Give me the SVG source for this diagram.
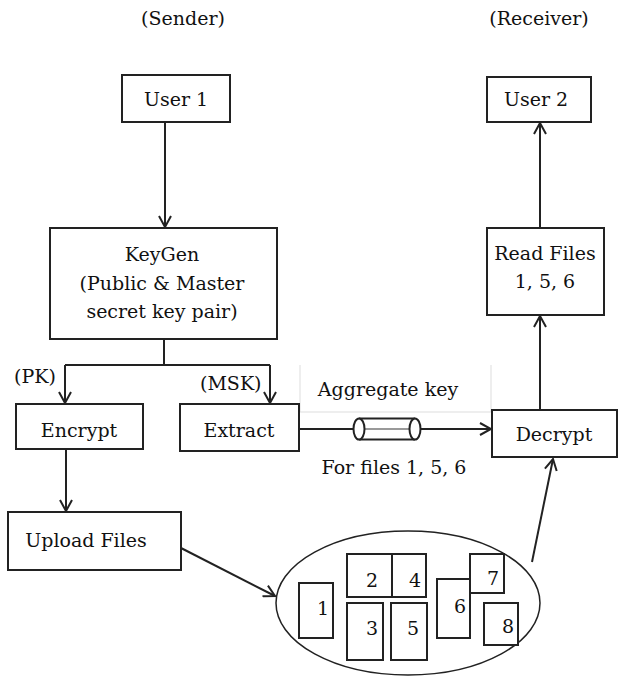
<svg xmlns="http://www.w3.org/2000/svg" width="627" height="676" viewBox="0 0 627 676">
<style>
.box{fill:#fff;stroke:#222;stroke-width:2}
.ln{fill:none;stroke:#222;stroke-width:2}
.faint{fill:none;stroke:#ddd;stroke-width:1}
.c{text-anchor:middle}
text{font-family:"DejaVu Serif",serif;font-size:19px;fill:#111}
</style>
<defs>
<marker id="ah" markerWidth="14" markerHeight="14" refX="12" refY="7" orient="auto" markerUnits="userSpaceOnUse">
<path d="M1,1 L12,7 L1,13" fill="none" stroke="#222" stroke-width="2"/>
</marker>
</defs>
<rect width="627" height="676" fill="#fff"/>
<text x="183" y="25" class="c">(Sender)</text>
<text x="539" y="25" class="c">(Receiver)</text>
<g id="connectors">
<line class="ln" x1="165" y1="122" x2="165" y2="227" marker-end="url(#ah)"/>
<polyline class="ln" points="164,339 164,365"/>
<polyline class="ln" points="65,365 270,365"/>
<line class="ln" x1="65" y1="365" x2="65" y2="403" marker-end="url(#ah)"/>
<line class="ln" x1="270" y1="365" x2="270" y2="403" marker-end="url(#ah)"/>
<line class="ln" x1="66" y1="449" x2="66" y2="511" marker-end="url(#ah)"/>
<line class="ln" x1="181" y1="548" x2="275" y2="596" marker-end="url(#ah)"/>
<line class="ln" x1="532" y1="562" x2="553" y2="459" marker-end="url(#ah)"/>
<line class="ln" x1="299" y1="429" x2="353" y2="429"/>
<line class="ln" x1="421" y1="429" x2="491" y2="429" marker-end="url(#ah)"/>
<line class="ln" x1="540" y1="410" x2="540" y2="316" marker-end="url(#ah)"/>
<line class="ln" x1="540" y1="228" x2="540" y2="123" marker-end="url(#ah)"/>
</g>
<g id="aggregate-key">
<polyline class="faint" points="300,365 300,412 491,412 491,365"/>
<text x="388" y="396" class="c">Aggregate key</text>
<line x1="359" y1="429" x2="415" y2="429" stroke="#999" stroke-width="2"/>
<line x1="359" y1="418.5" x2="415" y2="418.5" stroke="#222" stroke-width="2"/>
<line x1="359" y1="439.5" x2="415" y2="439.5" stroke="#222" stroke-width="2"/>
<ellipse cx="359" cy="429" rx="5.5" ry="10.5" fill="#fff" stroke="#222" stroke-width="2"/>
<ellipse cx="415" cy="429" rx="5.5" ry="10.5" fill="#fff" stroke="#222" stroke-width="2"/>
<text x="394" y="474" class="c">For files 1, 5, 6</text>
</g>
<g id="user1"><rect class="box" x="122" y="75" width="108" height="47"/><text x="176" y="106" class="c">User 1</text></g>
<g id="user2"><rect class="box" x="487" y="77" width="104" height="45"/><text x="536" y="106" class="c">User 2</text></g>
<g id="keygen"><rect class="box" x="50" y="228" width="227" height="111"/>
<text x="162" y="261" class="c">KeyGen</text>
<text x="162" y="290" class="c">(Public &amp; Master</text>
<text x="162" y="318" class="c">secret key pair)</text></g>
<text x="14" y="383">(PK)</text>
<text x="200" y="390">(MSK)</text>
<g id="encrypt"><rect class="box" x="16" y="404" width="127" height="45"/><text x="79" y="437" class="c">Encrypt</text></g>
<g id="extract"><rect class="box" x="180" y="404" width="119" height="47"/><text x="239" y="437" class="c">Extract</text></g>
<g id="decrypt"><rect class="box" x="492" y="410" width="125" height="47"/><text x="554" y="441" class="c">Decrypt</text></g>
<g id="readfiles"><rect class="box" x="487" y="228" width="117" height="87"/>
<text x="545" y="260" class="c">Read Files</text>
<text x="545" y="288" class="c">1, 5, 6</text></g>
<g id="upload"><rect class="box" x="8" y="512" width="173" height="58"/><text x="86" y="547" class="c">Upload Files</text></g>
<g id="cloud">
<ellipse cx="408" cy="603" rx="132" ry="72" fill="none" stroke="#222" stroke-width="1.5"/>
<rect class="box" x="299" y="583" width="34" height="55"/><text x="323" y="615" class="c">1</text>
<rect class="box" x="347" y="554" width="45" height="43"/><text x="372" y="587" class="c">2</text>
<rect class="box" x="392" y="554" width="34" height="43"/><text x="415" y="587" class="c">4</text>
<rect class="box" x="347" y="603" width="36" height="57"/><text x="372" y="635" class="c">3</text>
<rect class="box" x="391" y="603" width="36" height="57"/><text x="413" y="635" class="c">5</text>
<rect class="box" x="437" y="579" width="33" height="59"/><text x="460" y="613" class="c">6</text>
<rect class="box" x="470" y="554" width="34" height="39"/><text x="493" y="585" class="c">7</text>
<rect class="box" x="484" y="603" width="34" height="42"/><text x="508" y="633" class="c">8</text>
</g>
</svg>
